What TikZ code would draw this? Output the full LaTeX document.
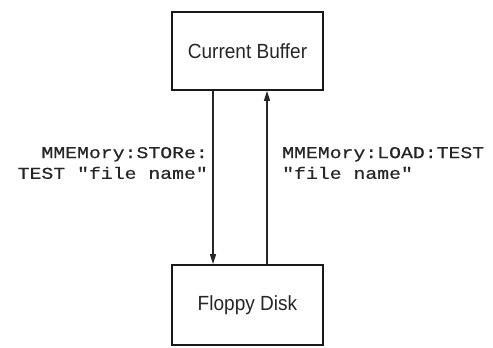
\documentclass[tikz,border=0pt]{standalone}
\usepackage{fontspec}
\setmainfont{Liberation Sans}
\newfontfamily\boxfont[FakeStretch=0.93]{Liberation Sans}
\newfontfamily\cmdfont[FakeStretch=1.2,FakeBold=0.6]{Liberation Mono}
\usetikzlibrary{arrows.meta}
\begin{document}
\begin{tikzpicture}[x=1pt,y=-1pt,
  blk/.style={draw=black!90, line width=1.7pt, minimum width=151pt, inner sep=0pt,
    font=\boxfont\fontsize{20.5}{24}\selectfont, text=black!85},
  arr/.style={draw=black!85, line width=1.2pt, -{Triangle[length=10pt,width=6pt]}},
  cmd/.style={font=\cmdfont\fontsize{16.5}{20.7}\selectfont, text=black!85, inner sep=0pt, align=left}]
\useasboundingbox (0,0) rectangle (493,348);
\node[blk, minimum height=78pt] (cb) at (247.5,51) {Current Buffer};
\node[blk, minimum height=80pt] (fd) at (247.5,305) {Floppy Disk};
\draw[arr] ([xshift=-34.5pt]cb.south) -- ([xshift=-34.5pt]fd.north);
\draw[arr] ([xshift=19.5pt]fd.north) -- ([xshift=19.5pt]cb.south);
\node[cmd, anchor=east, align=right] (ls) at (208,163) {MMEMory:STORe:\\TEST "file name"};
\node[cmd, anchor=west] (rs) at (282,163) {MMEMory:LOAD:TEST\\"file name"};
\end{tikzpicture}
\end{document}
